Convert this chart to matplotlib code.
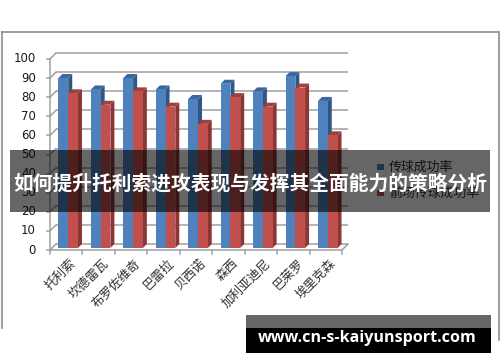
import matplotlib
matplotlib.use("Agg")
import matplotlib.pyplot as plt
from matplotlib.patches import Rectangle, Polygon
from matplotlib.lines import Line2D

plt.rcParams['font.family'] = ['Noto Sans CJK SC', 'DejaVu Sans']

# ---- data ----
players = ["托利索", "坎德雷瓦", "布罗佐维奇", "巴雷拉", "贝西诺",
           "森西", "加利亚迪尼", "巴莱罗", "埃里克森"]
series_names = ["传球成功率", "前场传球成功率"]
pass_rate = [89, 83, 89, 83, 78, 86, 82, 90, 77]
front_pass_rate = [81, 75, 82, 74, 65, 79, 74, 84, 59]
y_ticks = [0, 10, 20, 30, 40, 50, 60, 70, 80, 90, 100]
banner_title = "如何提升托利索进攻表现与发挥其全面能力的策略分析"
watermark = "www.cn-s-kaiyunsport.com"

W, H = 500, 362
fig = plt.figure(figsize=(W / 100, H / 100), dpi=100)
fig.patch.set_facecolor("white")

def fx(px):
    return px / W

def fy(py):
    return 1 - py / H

# front plane of the 3D plot (pixel layout)
L, R, B, T = 50, 342, 250, 59
ax = fig.add_axes([fx(L), fy(B), (R - L) / W, (B - T) / H])
n = len(players)
ax.set_xlim(-0.5, n - 0.5)
ax.set_ylim(0, 100)
ax.axis("off")

pxx = n / (R - L)        # data units per pixel (x)
pxy = 100 / (B - T)      # data units per pixel (y)
DX, DY = 6 * pxx, 6 * pxy    # depth of back wall
grid_c = "#a0a0a0"
lw = 1.1

x0, x1 = -0.5, n - 0.5
# gridlines on back wall + left wall diagonals
for v in y_ticks:
    ax.plot([x0 + DX, x1 + DX], [v + DY, v + DY], color=grid_c, lw=lw,
            clip_on=False, zorder=1, solid_capstyle="butt")
    ax.plot([x0, x0 + DX], [v, v + DY], color=grid_c, lw=lw, clip_on=False, zorder=1)
    ax.plot([x0 - 3 * pxx, x0], [v, v], color=grid_c, lw=lw, clip_on=False, zorder=1)
    ax.text(x0 - 14 * pxx, v, str(v), ha="right", va="center", fontsize=8.5,
            color="#1a1a1a", family="DejaVu Sans")
# left front vertical and floor
ax.plot([x0, x0], [0, 100], color=grid_c, lw=lw, clip_on=False, zorder=1)
ax.plot([x0, x1], [0, 0], color=grid_c, lw=lw, clip_on=False, zorder=5)
ax.plot([x1, x1 + DX], [0, DY], color=grid_c, lw=lw, clip_on=False, zorder=5)
for i in range(n + 1):
    xb = i - 0.5
    ax.plot([xb, xb], [0, -4 * pxy], color=grid_c, lw=lw, clip_on=False, zorder=5)

# 3D bars
bw = 0.3
off_x, off_y = 2 * pxx, 2 * pxy
ext_x, ext_y = 4 * pxx, 4 * pxy
cols = [("#4f81bd", "#2f5686", "#3a679e"), ("#c0504d", "#8c3533", "#a23f3c")]
for s, vals in enumerate([pass_rate, front_pass_rate]):
    face, side, top = cols[s]
    for i, v in enumerate(vals):
        xl = i - bw + s * bw + off_x
        xr = xl + bw
        yb = off_y
        yt = v + off_y
        z = 3 + s
        ax.add_patch(Polygon([(xr, yb), (xr + ext_x, yb + ext_y), (xr + ext_x, yt + ext_y), (xr, yt)],
                             closed=True, facecolor=side, edgecolor="none", zorder=z, clip_on=False))
        ax.add_patch(Polygon([(xl, yt), (xl + ext_x, yt + ext_y), (xr + ext_x, yt + ext_y), (xr, yt)],
                             closed=True, facecolor=top, edgecolor="none", zorder=z, clip_on=False))
        ax.add_patch(Rectangle((xl, yb), bw, v, facecolor=face, edgecolor="none", zorder=z, clip_on=False))

# category labels
for i, name in enumerate(players):
    ax.text(i + 0.1, -7 * pxy, name, rotation=45, rotation_mode="anchor",
            ha="right", va="top", fontsize=9, color="#303030")

# legend
for k, (nm, c) in enumerate(zip(series_names, [cols[0][0], cols[1][0]])):
    yc = 167 + k * 26
    fig.patches.append(Rectangle((fx(377), fy(yc + 3)), 7 / W, 6 / H, transform=fig.transFigure,
                                 facecolor=c, edgecolor="none", zorder=2))
    fig.text(fx(389), fy(yc), nm, ha="left", va="center", fontsize=9.3, color="#303030", zorder=2)

# chart border (top, left, right)
bc = "#8c8c8c"
fig.add_artist(Line2D([fx(2), fx(498)], [fy(32), fy(32)], color=bc, lw=1.2))
fig.add_artist(Line2D([fx(2), fx(2)], [fy(32), fy(328)], color=bc, lw=1.2))
fig.add_artist(Line2D([fx(498.5), fx(498.5)], [fy(32), fy(340)], color=bc, lw=1.2))

# banner overlay
fig.patches.append(Rectangle((fx(10), fy(212)), 480 / W, 62 / H, transform=fig.transFigure,
                             facecolor="black", alpha=0.6, edgecolor="none", zorder=10))
fig.text(fx(250), fy(184), banner_title, ha="center", va="center", fontsize=14.2,
         fontweight="bold", color="white", zorder=11)

# watermark box
fig.patches.append(Rectangle((fx(246), fy(328)), 245 / W, 13 / H, transform=fig.transFigure,
                             facecolor="#666666", edgecolor="none", zorder=10))
fig.patches.append(Rectangle((fx(246), fy(353)), 245 / W, 25 / H, transform=fig.transFigure,
                             facecolor="black", edgecolor="none", zorder=10))
fig.text(fx(367.5), fy(338), watermark, ha="center", va="center", fontsize=11.6,
         fontweight="bold", color="white", family=["Open Sans", "DejaVu Sans"], zorder=11)

fig.savefig("out.png", dpi=100)
